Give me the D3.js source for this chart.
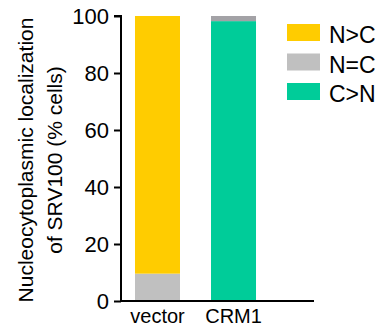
<!DOCTYPE html>
<html><head><meta charset="utf-8">
<script src="https://cdn.jsdelivr.net/npm/d3@7"></script>
<style>body{margin:0;background:#fff;} text{font-family:Arial,"Liberation Sans",sans-serif;fill:#000;}</style>
</head><body>
<svg id="c" width="381" height="329"></svg>
<script>
const categories = ["vector", "CRM1"];
const seriesNames = ["N>C", "N=C", "C>N"];
const valuesNgtC = [90.4, 0];
const valuesNeqC = [9.6, 1.8];
const valuesCgtN = [0, 98.2];
const seriesColors = ["#FFCC00", "#C0C0C0", "#00CC99"];
const yTicks = [0, 20, 40, 60, 80, 100];

const rows = categories.map((c, i) => ({cat: c, "N>C": valuesNgtC[i], "N=C": valuesNeqC[i], "C>N": valuesCgtN[i]}));
const stack = d3.stack().keys(["C>N", "N=C", "N>C"]);
const layers = stack(rows);

const svg = d3.select("#c");
const x = d3.scaleBand().domain(categories).range([121, 270]).paddingInner(0.408).paddingOuter(0.184);
const y = d3.scaleLinear().domain([0, 100]).range([301, 16]);
const color = d3.scaleOrdinal().domain(seriesNames).range(seriesColors);

layers.forEach(layer => {
  svg.append("g").selectAll("rect").data(layer).join("rect")
    .attr("x", d => x(d.data.cat))
    .attr("width", x.bandwidth())
    .attr("y", d => y(d[1]))
    .attr("height", d => y(d[0]) - y(d[1]))
    .attr("fill", d => (layer.key === "N=C" && d.data.cat === "CRM1") ? "#A3A2A6" : color(layer.key));
});

// y axis
const yAxis = svg.append("g").attr("transform", "translate(121,0)")
  .call(d3.axisLeft(y).tickValues(yTicks).tickSize(7).tickPadding(5));
yAxis.select(".domain").attr("stroke", "#000").attr("stroke-width", 2).attr("d", "M-7,16H0V301");
yAxis.selectAll(".tick line").attr("stroke", "#000").attr("stroke-width", 2);
yAxis.selectAll(".tick text").style("font-size", "22px").style("font-family", "Arial, 'Liberation Sans', sans-serif").attr("fill", "#000");

// x axis
const xAxis = svg.append("g").attr("transform", "translate(0,301)")
  .call(d3.axisBottom(x).tickSize(0).tickPadding(8));
xAxis.select(".domain").attr("stroke", "#000").attr("stroke-width", 2).attr("d", "M120,0H314");
xAxis.selectAll(".tick text").style("font-size", "20px").style("font-family", "Arial, 'Liberation Sans', sans-serif").attr("fill", "#000").attr("dy", "0.71em");

// y title
const t = svg.append("text").attr("transform", "translate(0,160) rotate(-90)").attr("text-anchor", "middle").style("font-size", "21px");
t.append("tspan").attr("x", 0).attr("y", 33).text("Nucleocytoplasmic localization");
t.append("tspan").attr("x", 0).attr("y", 62).text("of SRV100 (% cells)");

// legend
const lg = svg.append("g");
seriesNames.forEach((s, i) => {
  const yy = 24 + i * 29.5;
  lg.append("rect").attr("x", 287).attr("y", yy).attr("width", 33).attr("height", 17).attr("fill", color(s));
  lg.append("text").attr("x", 329).attr("y", yy + 19).style("font-size", "23px").text(s);
});
</script>
</body></html>
